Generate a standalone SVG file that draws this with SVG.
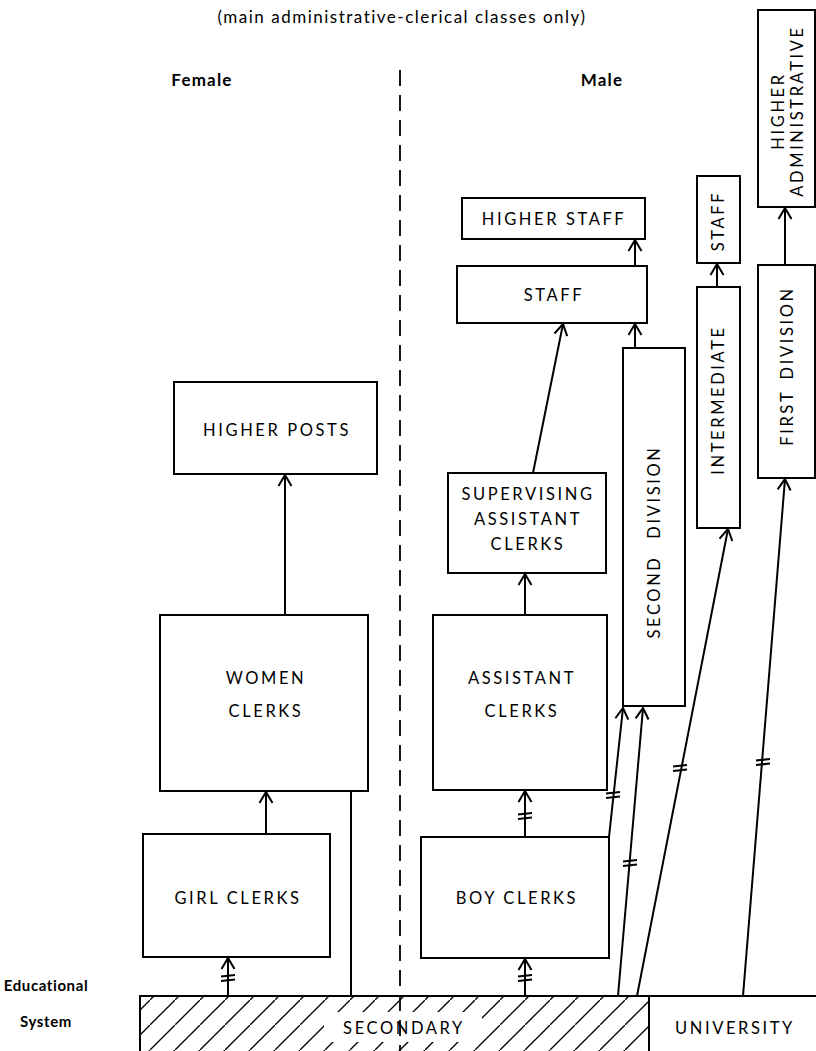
<svg xmlns="http://www.w3.org/2000/svg" width="816" height="1051" viewBox="0 0 816 1051">
<style>
.box{fill:#fff;stroke:#000;stroke-width:2}
.lbl{font-family:Lato,"Open Sans","Liberation Sans",sans-serif;font-size:16.5px;letter-spacing:2.6px;fill:#000;text-anchor:middle}
.hdr{font-family:Lato,"Open Sans","Liberation Sans",sans-serif;font-size:17px;font-weight:bold;letter-spacing:1.2px;fill:#000;text-anchor:middle}
.edu{font-family:Lato,"Open Sans","Liberation Sans",sans-serif;font-size:15px;font-weight:bold;letter-spacing:0.6px;fill:#000;text-anchor:middle}
.ttl{font-family:Lato,"Open Sans","Liberation Sans",sans-serif;font-size:17px;fill:#000;text-anchor:middle;letter-spacing:1.5px}
.con{fill:none;stroke:#000;stroke-width:2}
.tick{fill:none;stroke:#000;stroke-width:2.2}
</style>
<defs>
<marker id="ah" markerUnits="userSpaceOnUse" markerWidth="20" markerHeight="20" refX="0" refY="0" orient="auto" overflow="visible">
<path d="M-11,-6.5 L0,0 L-11,6.5" fill="none" stroke="#000" stroke-width="2"/>
</marker>
<pattern id="hatch" patternUnits="userSpaceOnUse" width="25" height="25">
<line x1="-2" y1="27" x2="27" y2="-2" stroke="#000" stroke-width="1.3"/>
</pattern>
<g id="tk"><path class="tick" d="M-7,-1.5 L7,-3 M-7,3 L7,1.5"/></g>
</defs>

<rect width="816" height="1051" fill="#fff"/>

<text class="ttl" x="402" y="23">(main administrative-clerical classes only)</text>
<text class="hdr" x="202" y="86">Female</text>
<text class="hdr" x="602" y="86">Male</text>

<g id="educational-system">
<text class="edu" x="46" y="991">Educational</text>
<text class="edu" x="46" y="1027">System</text>
<rect x="140" y="996" width="509" height="60" fill="url(#hatch)" stroke="#000" stroke-width="2"/>
<rect x="324" y="1012" width="158" height="30" fill="#fff"/>
<text class="lbl" x="404" y="1034">SECONDARY</text>
<rect x="649" y="996" width="170" height="60" fill="#fff" stroke="#000" stroke-width="2"/>
<text class="lbl" x="735" y="1034">UNIVERSITY</text>
</g>

<line x1="400" y1="70" x2="400" y2="1051" stroke="#000" stroke-width="1.8" stroke-dasharray="16,9"/>

<g id="higher-posts"><rect class="box" x="174" y="382" width="203" height="92"/><text class="lbl" x="277" y="436">HIGHER POSTS</text></g>
<g id="women-clerks"><rect class="box" x="160" y="615" width="208" height="176"/><text class="lbl" x="266" y="684">WOMEN</text><text class="lbl" x="266" y="717">CLERKS</text></g>
<g id="girl-clerks"><rect class="box" x="143" y="834" width="187" height="123"/><text class="lbl" x="238" y="904">GIRL CLERKS</text></g>
<g id="boy-clerks"><rect class="box" x="421" y="837" width="188" height="121"/><text class="lbl" x="517" y="904">BOY CLERKS</text></g>
<g id="assistant-clerks"><rect class="box" x="433" y="615" width="174" height="175"/><text class="lbl" x="522" y="684">ASSISTANT</text><text class="lbl" x="522" y="717">CLERKS</text></g>
<g id="supervising-assistant-clerks"><rect class="box" x="448" y="473" width="158" height="100"/><text class="lbl" x="528" y="500">SUPERVISING</text><text class="lbl" x="528" y="525">ASSISTANT</text><text class="lbl" x="528" y="550">CLERKS</text></g>
<g id="staff"><rect class="box" x="457" y="266" width="190" height="57"/><text class="lbl" x="554" y="301">STAFF</text></g>
<g id="higher-staff"><rect class="box" x="462" y="198" width="183" height="41"/><text class="lbl" x="554" y="225">HIGHER STAFF</text></g>
<g id="second-division"><rect class="box" x="623" y="348" width="62" height="358"/><text class="lbl" style="word-spacing:10px" transform="translate(660,542) rotate(-90)">SECOND DIVISION</text></g>
<g id="intermediate"><rect class="box" x="697" y="287" width="43" height="241"/><text class="lbl" transform="translate(724,400) rotate(-90)">INTERMEDIATE</text></g>
<g id="staff-upper"><rect class="box" x="697" y="176" width="43" height="87"/><text class="lbl" transform="translate(724,221) rotate(-90)">STAFF</text></g>
<g id="higher-administrative"><rect class="box" x="758" y="10" width="57" height="197"/><text class="lbl" transform="translate(784,111) rotate(-90)">HIGHER</text><text class="lbl" transform="translate(803,111) rotate(-90)">ADMINISTRATIVE</text></g>
<g id="first-division"><rect class="box" x="758" y="265" width="57" height="213"/><text class="lbl" style="word-spacing:4px" transform="translate(793,366) rotate(-90)">FIRST DIVISION</text></g>

<g id="connectors">
<line class="con" x1="228" y1="996" x2="228" y2="958" marker-end="url(#ah)"/>
<line class="con" x1="266" y1="834" x2="266" y2="792" marker-end="url(#ah)"/>
<line class="con" x1="285" y1="615" x2="285" y2="475" marker-end="url(#ah)"/>
<line class="con" x1="351" y1="996" x2="351" y2="791"/>
<line class="con" x1="525" y1="996" x2="525" y2="959" marker-end="url(#ah)"/>
<line class="con" x1="525" y1="837" x2="525" y2="791" marker-end="url(#ah)"/>
<line class="con" x1="525" y1="615" x2="525" y2="574" marker-end="url(#ah)"/>
<line class="con" x1="533" y1="473" x2="563" y2="324" marker-end="url(#ah)"/>
<line class="con" x1="635" y1="266" x2="635" y2="240" marker-end="url(#ah)"/>
<line class="con" x1="635" y1="348" x2="635" y2="324" marker-end="url(#ah)"/>
<line class="con" x1="609" y1="837" x2="623" y2="708" marker-end="url(#ah)"/>
<line class="con" x1="618" y1="996" x2="643" y2="708" marker-end="url(#ah)"/>
<line class="con" x1="637" y1="996" x2="728" y2="529" marker-end="url(#ah)"/>
<line class="con" x1="743" y1="996" x2="785" y2="479" marker-end="url(#ah)"/>
<line class="con" x1="717" y1="287" x2="717" y2="264" marker-end="url(#ah)"/>
<line class="con" x1="785" y1="265" x2="785" y2="208" marker-end="url(#ah)"/>
<use href="#tk" x="228" y="978"/>
<use href="#tk" x="525" y="978"/>
<use href="#tk" x="525" y="816"/>
<use href="#tk" x="613" y="795"/>
<use href="#tk" x="630" y="863"/>
<use href="#tk" x="680" y="768"/>
<use href="#tk" x="763" y="762"/>
</g>
</svg>
